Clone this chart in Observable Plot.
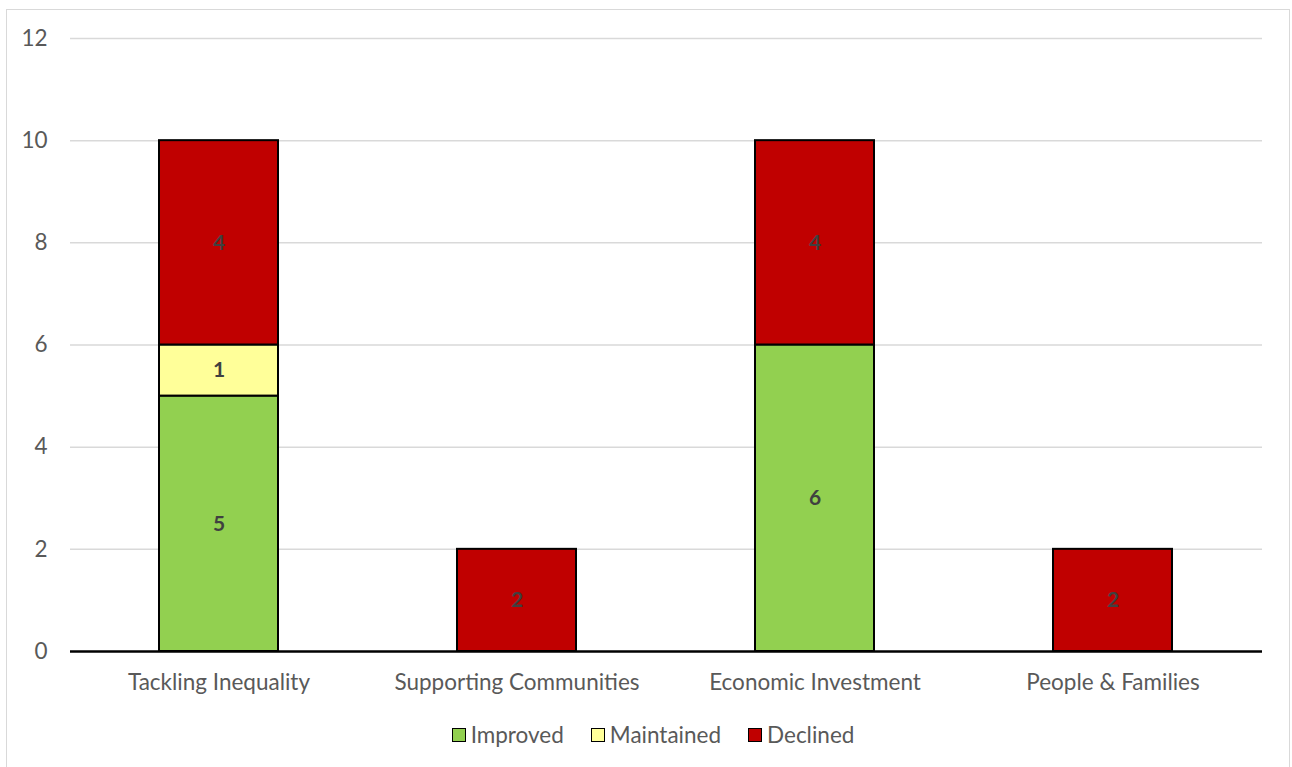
<!DOCTYPE html>
<html><head><meta charset="utf-8">
<script src="https://cdn.jsdelivr.net/npm/d3@7"></script>
<script src="https://cdn.jsdelivr.net/npm/@observablehq/plot@0.6"></script>
<style>
body{margin:0;background:#fff;font-family:Lato,"Open Sans",sans-serif;}
#wrap{position:relative;width:1292px;height:767px;overflow:hidden;}
#frame{position:absolute;left:6px;top:9px;width:1284px;height:770px;border:1.5px solid #d9d9d9;box-sizing:border-box;}
#chart{position:absolute;left:0;top:0;}
#legend{position:absolute;left:0;width:1306px;top:721px;display:flex;justify-content:center;gap:27px;font-size:22.5px;color:#595959;}
.item{display:flex;align-items:center;gap:5px;}
.sw{width:12px;height:12px;border:1.5px solid #000;}
</style></head><body>
<div id="wrap"><div id="frame"></div><div id="chart"></div><div id="legend"></div></div>
<script>
const categories = ["Tackling Inequality","Supporting Communities","Economic Investment","People & Families"];
const seriesNames = ["Improved","Maintained","Declined"];
const improved = [5,0,6,0];
const maintained = [1,0,0,0];
const declined = [4,2,4,2];
const colors = ["#92d050","#ffff99","#c00000"];
const yTicks = [0,2,4,6,8,10,12];

const seriesValues = [improved, maintained, declined];
const data = [];
seriesNames.forEach((s,i)=>categories.forEach((c,j)=>{
  if (seriesValues[i][j] > 0) data.push({category:c, series:s, value:seriesValues[i][j]});
}));

const stackOpts = {x:"category", y:"value", z:"series", order: seriesNames};

const plot = Plot.plot({
  width:1292, height:700,
  marginLeft:70, marginRight:30, marginTop:38, marginBottom:49,
  style:{fontFamily:"Lato, 'Open Sans', sans-serif", fontSize:"22.5px", color:"#595959", background:"transparent"},
  x:{domain:categories, paddingInner:0.6, paddingOuter:0.3, label:null, tickSize:0, tickPadding:23},
  y:{domain:[0,12], ticks:yTicks, label:null, tickSize:0, tickPadding:23, grid:false},
  color:{domain:seriesNames, range:colors},
  marks:[
    Plot.ruleY(yTicks.filter(d=>d>0), {stroke:"#d9d9d9", strokeWidth:1.5}),
    Plot.barY(data, Plot.stackY({...stackOpts, fill:"series", stroke:"#000", strokeWidth:2})),
    Plot.text(data, Plot.stackY({...stackOpts, text:d=>String(d.value), fill:"#404040", fontWeight:"bold", fontSize:21})),
    Plot.ruleY([0], {stroke:"#000", strokeWidth:2.5})
  ]
});
document.getElementById("chart").appendChild(plot);

const legend = document.getElementById("legend");
seriesNames.forEach((s,i)=>{
  const it = document.createElement("div"); it.className="item";
  const sw = document.createElement("div"); sw.className="sw"; sw.style.background=colors[i];
  const t = document.createElement("span"); t.textContent=s;
  it.appendChild(sw); it.appendChild(t); legend.appendChild(it);
});
</script>
</body></html>
